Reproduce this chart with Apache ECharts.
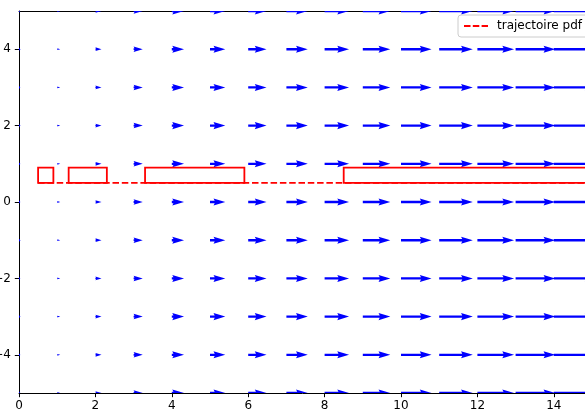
<!DOCTYPE html>
<html>
<head>
<meta charset="utf-8">
<script src="https://cdn.jsdelivr.net/npm/echarts@6/dist/echarts.min.js"></script>
<style>
  html, body { margin: 0; padding: 0; background: #fff; }
  #chart { width: 585px; height: 412px; }
</style>
</head>
<body>
<div id="chart"></div>
<script>
// grille du champ de vitesses (quiver)
var gridX = [0, 1, 2, 3, 4, 5, 6, 7, 8, 9, 10, 11, 12, 13, 14, 15];
var gridY = [-5, -4, -3, -2, -1, 0, 1, 2, 3, 4, 5];
// composante u par colonne (v = 0)
var uByColumn = [0, 1, 2, 3, 4, 5, 6, 7, 8, 9, 10, 11, 12, 13, 14, 15];

// obstacles (rectangles rouges)
var rectX0 = [0.5, 1.3, 3.3, 8.5];
var rectX1 = [0.9, 2.3, 5.9, 16];
var rectY0 = [0.5, 0.5, 0.5, 0.5];
var rectY1 = [0.9, 0.9, 0.9, 0.9];

// trajectoire
var trajX = [0.5, 15];
var trajY = [0.5, 0.5];

var xTicks = [0, 2, 4, 6, 8, 10, 12, 14];
var yTicks = [-4, -2, 0, 2, 4];

var chart = echarts.init(document.getElementById('chart'));

var arrowData = [];
gridY.forEach(function (y) {
  gridX.forEach(function (x, i) {
    arrowData.push([x, y, uByColumn[i]]);
  });
});

var rectData = rectX0.map(function (x0, i) {
  return [x0, rectY0[i], rectX1[i], rectY1[i]];
});

var trajData = trajX.map(function (x, i) { return [x, trajY[i]]; });

var QSCALE = 0.08;  // longueur en unités de données par unité de u
var W = 2.35;       // largeur de la tige en px

function renderArrow(params, api) {
  var x = api.value(0), y = api.value(1), u = api.value(2);
  var tail = api.coord([x, y]);
  var tip = api.coord([x + u * QSCALE, y]);
  var L = (tip[0] - tail[0]) / W;
  if (L < 1) {
    return {
      type: 'circle',
      shape: { cx: tail[0], cy: tail[1], r: 0.5 * W },
      style: { fill: '#0000ff' }
    };
  }
  var pts;
  if (L >= 5) {
    pts = [[0, 0.5], [L - 4.5, 0.5], [L - 5, 1.5], [L, 0], [L - 5, -1.5], [L - 4.5, -0.5], [0, -0.5]];
  } else {
    var s = L / 5;
    pts = [[0, 0.5], [0.5, 0.5], [0, 1.5], [5, 0], [0, -1.5], [0.5, -0.5], [0, -0.5]].map(function (p) {
      return [p[0] * s, p[1] * s];
    });
  }
  return {
    type: 'polygon',
    shape: {
      points: pts.map(function (p) { return [tail[0] + p[0] * W, tail[1] - p[1] * W]; })
    },
    style: { fill: '#0000ff' }
  };
}

function renderRect(params, api) {
  var p0 = api.coord([api.value(0), api.value(3)]);
  var p1 = api.coord([api.value(2), api.value(1)]);
  return {
    type: 'rect',
    shape: { x: p0[0], y: p0[1], width: p1[0] - p0[0], height: p1[1] - p0[1] },
    style: { fill: null, stroke: '#ff0000', lineWidth: 1.8 }
  };
}

var labelFont = { color: '#000', fontSize: 12, fontFamily: 'DejaVu Sans' };

var option = {
  backgroundColor: '#ffffff',
  animation: false,
  grid: { left: 19, top: 11, width: 573, height: 382, containLabel: false, outerBoundsMode: 'none' },
  legend: {
    data: [{
      name: 'trajectoire pdf',
      icon: 'path://M0,0H6.5V1.8H0Z M8.8,0H15.3V1.8H8.8Z M17.6,0H24V1.8H17.6Z'
    }],
    left: 458,
    top: 15,
    padding: [5, 8, 5, 6],
    itemWidth: 24,
    itemHeight: 1.8,
    borderColor: '#cccccc',
    borderWidth: 1,
    borderRadius: 3,
    backgroundColor: 'rgba(255,255,255,0.8)',
    textStyle: { color: '#000', fontSize: 12, fontFamily: 'DejaVu Sans', padding: [0, 0, 0, 4] }
  },
  xAxis: [{
    type: 'value',
    min: 0,
    max: 15,
    interval: 2,
    axisLine: { onZero: false, lineStyle: { color: '#000', width: 1 } },
    axisTick: { show: true, length: 4.2, lineStyle: { color: '#000', width: 1 } },
    axisLabel: Object.assign({ margin: 7, showMaxLabel: false }, labelFont),
    splitLine: { show: false }
  }, {
    type: 'value',
    position: 'top',
    min: 0,
    max: 15,
    axisLine: { show: true, onZero: false, lineStyle: { color: '#000', width: 1 } },
    axisTick: { show: false },
    axisLabel: { show: false },
    splitLine: { show: false }
  }],
  yAxis: {
    type: 'value',
    min: -5,
    max: 5,
    axisLine: { show: true, onZero: false, lineStyle: { color: '#000', width: 1 } },
    axisTick: {
      show: true, length: 4.2, lineStyle: { color: '#000', width: 1 },
      customValues: yTicks
    },
    axisLabel: Object.assign({
      margin: 8,
      customValues: yTicks,
      formatter: function (v) { return String(v).replace('-', '\u2212'); }
    }, labelFont),
    splitLine: { show: false }
  },
  series: [{
    type: 'custom',
    name: 'quiver',
    clip: true,
    renderItem: renderArrow,
    data: arrowData,
    z: 2
  }, {
    type: 'custom',
    name: 'obstacles',
    clip: true,
    renderItem: renderRect,
    data: rectData,
    z: 3
  }, {
    type: 'line',
    name: 'trajectoire pdf',
    data: trajData,
    symbol: 'none',
    lineStyle: { color: '#ff0000', width: 1.8, type: [6.5, 2.8] },
    itemStyle: { color: '#ff0000' },
    z: 4
  }]
};

chart.setOption(option);
</script>
</body>
</html>
